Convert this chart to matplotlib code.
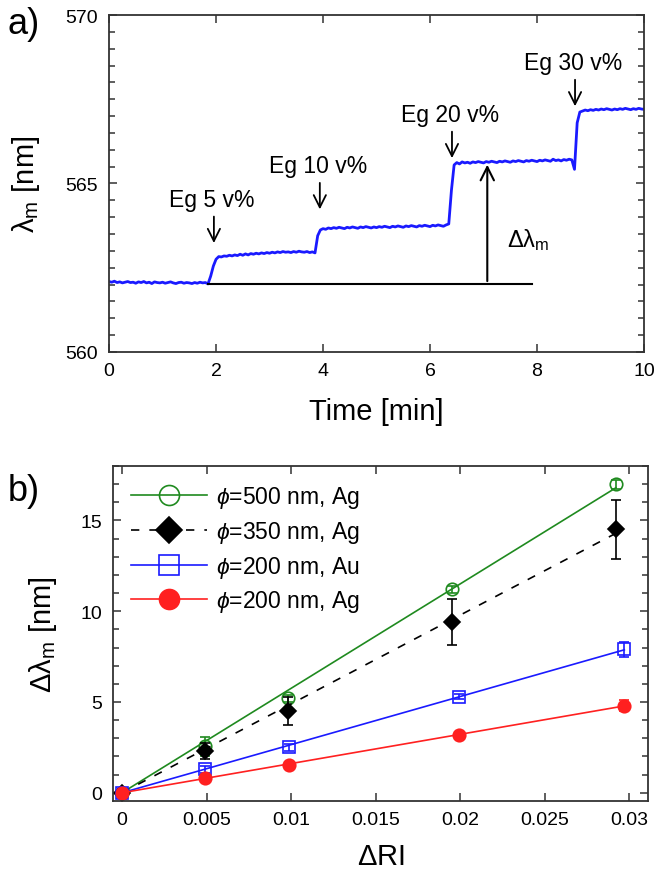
import numpy as np
import matplotlib.pyplot as plt
from matplotlib.ticker import MultipleLocator

plt.rcParams['font.family'] = ['Liberation Sans', 'DejaVu Sans']
plt.rcParams['mathtext.fontset'] = 'custom'
plt.rcParams['mathtext.rm'] = 'Liberation Sans'
plt.rcParams['mathtext.it'] = 'Liberation Sans:italic'

# a) peak wavelength vs time, sampled every 0.05 min
t = np.arange(201) * 0.05
lam = np.array([
    562.09, 562.07, 562.10, 562.06, 562.08, 562.05, 562.07, 562.09, 562.06, 562.07,
    562.04, 562.08, 562.06, 562.09, 562.05, 562.07, 562.03, 562.08, 562.06, 562.05,
    562.07, 562.04, 562.06, 562.08, 562.05, 562.03, 562.06, 562.07, 562.04, 562.06,
    562.05, 562.03, 562.06, 562.04, 562.07, 562.05, 562.06, 562.02, 562.25, 562.55,
    562.75, 562.83, 562.82, 562.85, 562.84, 562.87, 562.85, 562.88, 562.86, 562.90,
    562.87, 562.91, 562.88, 562.92, 562.90, 562.93, 562.91, 562.94, 562.92, 562.95,
    562.93, 562.96, 562.94, 562.97, 562.95, 562.98, 562.96, 562.97, 562.95, 562.98,
    562.96, 562.99, 562.97, 562.96, 562.98, 562.95, 562.97, 562.94, 563.45, 563.62,
    563.66, 563.64, 563.68, 563.66, 563.69, 563.67, 563.70, 563.68, 563.66, 563.70,
    563.68, 563.71, 563.69, 563.67, 563.71, 563.69, 563.72, 563.70, 563.68, 563.71,
    563.69, 563.72, 563.70, 563.73, 563.71, 563.69, 563.73, 563.71, 563.74, 563.72,
    563.70, 563.74, 563.72, 563.75, 563.73, 563.71, 563.75, 563.73, 563.76, 563.74,
    563.72, 563.76, 563.74, 563.77, 563.75, 563.73, 563.77, 563.80, 564.80, 565.55,
    565.62, 565.58, 565.64, 565.61, 565.63, 565.60, 565.64, 565.62, 565.65, 565.63,
    565.61, 565.65, 565.63, 565.66, 565.64, 565.62, 565.66, 565.64, 565.67, 565.65,
    565.63, 565.67, 565.65, 565.68, 565.66, 565.64, 565.68, 565.66, 565.69, 565.67,
    565.65, 565.69, 565.67, 565.70, 565.68, 565.66, 565.72, 565.68, 565.70, 565.67,
    565.71, 565.69, 565.72, 565.70, 565.42, 566.80, 567.12, 567.15, 567.18, 567.16,
    567.19, 567.17, 567.20, 567.18, 567.21, 567.19, 567.22, 567.20, 567.18, 567.21,
    567.19, 567.22, 567.20, 567.23, 567.21, 567.19, 567.22, 567.20, 567.23, 567.21,
    567.20,
])

eg_labels = ['Eg 5 v%', 'Eg 10 v%', 'Eg 20 v%', 'Eg 30 v%']
eg_t = [1.96, 3.94, 6.41, 8.71]
eg_tip = [563.15, 564.15, 565.67, 567.21]

# b) shift vs refractive index change
ri_ag500 = [0, 0.0049, 0.0098, 0.0195, 0.0292]
d_ag500 = [0, 2.55, 5.2, 11.2, 17.0]
e_ag500 = [0, 0.55, 0.2, 0.2, 0.25]
ri_ag350 = [0, 0.0049, 0.0098, 0.0195, 0.0292]
d_ag350 = [0, 2.3, 4.5, 9.4, 14.5]
e_ag350 = [0, 0.45, 0.75, 1.25, 1.6]
ri_au200 = [0, 0.0049, 0.0099, 0.0199, 0.0297]
d_au200 = [0, 1.3, 2.5, 5.3, 7.9]
e_au200 = [0, 0.2, 0.2, 0.15, 0.4]
ri_ag200 = [0, 0.0049, 0.0099, 0.0199, 0.0297]
d_ag200 = [0, 0.8, 1.55, 3.2, 4.8]
e_ag200 = [0, 0.1, 0.1, 0.15, 0.3]

fig = plt.figure(figsize=(6.58, 8.70), dpi=100)
ax1 = fig.add_axes([0.1657, 0.5943, 0.8131, 0.3873])
ax2 = fig.add_axes([0.1717, 0.0782, 0.8131, 0.3851])

for ax in (ax1, ax2):
    for s in ax.spines.values():
        s.set_linewidth(1.3)
        s.set_color('#333333')
    ax.tick_params(which='both', direction='in', top=True, right=True,
                   labelsize=14, width=1.1, color='#333333')
    ax.tick_params(which='major', length=6)
    ax.tick_params(which='minor', length=4.5)
    ax.tick_params(axis='y', pad=8)
    ax.tick_params(axis='x', pad=7)

# ---- panel a
ax1.plot(t, lam, color='#1a1aff', lw=2)
ax1.set_xlim(0, 10)
ax1.set_ylim(560, 570)
ax1.xaxis.set_major_locator(MultipleLocator(2))
ax1.yaxis.set_major_locator(MultipleLocator(5))
ax1.yaxis.set_minor_locator(MultipleLocator(0.5))
ax1.set_xlabel('Time [min]', fontsize=21, labelpad=13)
ax1.set_ylabel(r'$\mathrm{\lambda_m}$ [nm]', fontsize=21, labelpad=17)

for lab, x, y in zip(eg_labels, eg_t, eg_tip):
    ax1.annotate('', xy=(x, y), xytext=(x, y + 0.95),
                 arrowprops=dict(arrowstyle='->', color='black', lw=1.3,
                                 mutation_scale=22))
    ax1.text(x - 0.04, y + 1.37, lab, fontsize=16.5, ha='center', va='center')

ax1.plot([1.85, 7.9], [562.02, 562.02], color='black', lw=1.5)
ax1.annotate('', xy=(7.07, 565.64), xytext=(7.07, 562.02),
             arrowprops=dict(arrowstyle='->', color='black', lw=1.5,
                             mutation_scale=24))
ax1.text(7.44, 563.35, r'$\mathrm{\Delta\lambda_m}$', fontsize=17, va='center')

fig.text(0.012, 0.972, 'a)', fontsize=26, va='center')

# ---- panel b
series = [
    (ri_ag500, d_ag500, e_ag500, '#1f8a1f', 'o', 'none', '-', r'$\phi$=500 nm, Ag'),
    (ri_ag350, d_ag350, e_ag350, 'black', 'D', 'black', (0, (5, 6)), r'$\phi$=350 nm, Ag'),
    (ri_au200, d_au200, e_au200, '#1a1aff', 's', 'none', '-', r'$\phi$=200 nm, Au'),
    (ri_ag200, d_ag200, e_ag200, '#ff2020', 'o', '#ff2020', '-', r'$\phi$=200 nm, Ag'),
]
handles = []
for x, y, e, c, m, fc, ls, lab in series:
    x = np.array(x)
    y = np.array(y)
    k = np.dot(x, y) / np.dot(x, x)
    xf = np.array([0, x[-1]])
    ax2.plot(xf, k * xf, color=c, lw=1.2, ls=ls)
    ax2.errorbar(x, y, yerr=e, fmt='none', ecolor=c, elinewidth=1.2,
                 capsize=3.5, capthick=1.2)
    ms = 8 if m == 'D' else 9
    ax2.plot(x, y, ls='none', marker=m, ms=ms, mfc=fc, mec=c, mew=1.2)
    h, = ax2.plot([], [], color=c, lw=1.2, ls=ls, marker=m, ms=ms * 1.6,
                  mfc=fc, mec=c, mew=1.2, label=lab)
    handles.append(h)

ax2.set_xlim(-0.00053, 0.0311)
ax2.set_ylim(-0.45, 18)
ax2.xaxis.set_major_locator(MultipleLocator(0.005))
ax2.yaxis.set_major_locator(MultipleLocator(5))
ax2.yaxis.set_minor_locator(MultipleLocator(1))
ax2.set_xticks([0, 0.005, 0.01, 0.015, 0.02, 0.025, 0.03])
ax2.set_xticklabels(['0', '0.005', '0.01', '0.015', '0.02', '0.025', '0.03'])
ax2.set_xlabel(r'$\mathrm{\Delta}$RI', fontsize=21, labelpad=10)
ax2.set_ylabel(r'$\mathrm{\Delta\lambda_m}$ [nm]', fontsize=21, labelpad=15)
ax2.legend(handles=handles, loc='upper left', frameon=False, fontsize=16.5,
           handlelength=3.3, labelspacing=0.38, handletextpad=0.4,
           borderaxespad=0.4, bbox_to_anchor=(0.0, 1.0))

fig.text(0.012, 0.435, 'b)', fontsize=26, va='center')

fig.savefig('out.png', dpi=100)
